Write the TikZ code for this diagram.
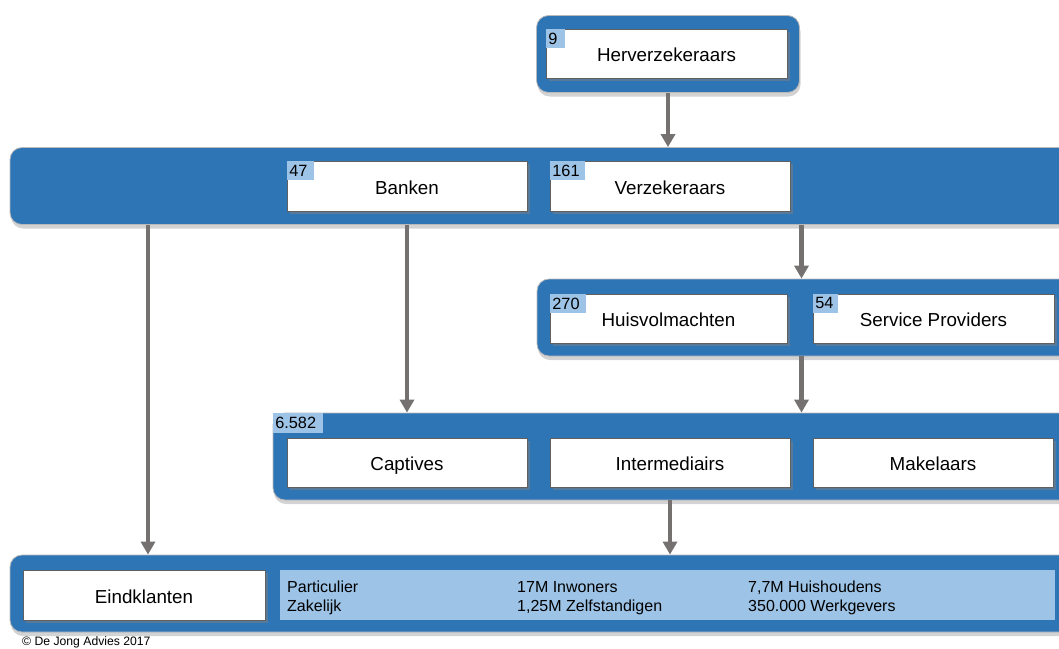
\documentclass[tikz,border=0pt]{standalone}
\usepackage{fontspec}
\setmainfont{Liberation Sans}
\usetikzlibrary{arrows.meta,shadows}
\definecolor{bandblue}{HTML}{2E75B6}
\definecolor{lblue}{HTML}{9DC3E6}
\definecolor{arrgray}{HTML}{767171}
\tikzset{
  bandbox/.style={fill=bandblue, draw=gray!55, line width=0.8pt, rounded corners=12pt, inner sep=0pt,
    drop shadow={shadow xshift=1pt, shadow yshift=-4pt, opacity=0.35}},
  whitebox/.style={fill=white, draw=gray!75!black, line width=0.6pt, inner sep=0pt,
    minimum width=240pt, minimum height=49pt, font=\fontsize{18.8}{21}\selectfont,
    text height=16.5pt, text depth=0pt,
    drop shadow={shadow xshift=3pt, shadow yshift=-3pt, opacity=0.5}},
  numbox/.style={fill=lblue, inner xsep=2.5pt, inner ysep=0pt, anchor=north west,
    minimum height=19pt, text width=#1, align=left, font=\fontsize{16.3}{17}\selectfont},
  infotext/.style={anchor=base west, inner sep=0pt, font=\fontsize{16}{17}\selectfont},
  flow/.style={draw=arrgray, line width=4.5pt, -{Triangle[width=14pt,length=13pt]}}
}
\begin{document}
\begin{tikzpicture}[x=1pt,y=-1pt]
\useasboundingbox (0,0) rectangle (1059,648);
\clip (0,0) rectangle (1059,648);

% bands
\node[bandbox, minimum width=263pt, minimum height=77pt] (hc) at (668,54) {};
\node[bandbox, minimum width=1068pt, minimum height=77pt] (band2) at (544,186) {};
\node[bandbox, minimum width=540pt, minimum height=77pt] (band3) at (807,317.5) {};
\node[bandbox, minimum width=805pt, minimum height=87pt] (band4) at (675.5,456.5) {};
\node[bandbox, minimum width=1068pt, minimum height=77pt] (band5) at (544,593.5) {};

% level 1
\node[whitebox, minimum width=241pt] (herv) at (666.5,53.5) {Herverzekeraars};
\node[numbox=14pt] (n9) at (herv.north west) {9};

% level 2
\node[whitebox, minimum height=50pt] (banken) at (407,186) {Banken};
\node[numbox=22pt] (n47) at (banken.north west) {47};
\node[whitebox, minimum height=50pt] (verz) at (670,186) {Verzekeraars};
\node[numbox=30pt] (n161) at (verz.north west) {161};

% level 3
\node[whitebox, minimum width=237pt] (huis) at (668.5,318.5) {Huisvolmachten};
\node[numbox=31pt] (n270) at (huis.north west) {270};
\node[whitebox, minimum width=241pt] (serv) at (933.5,318.5) {Service Providers};
\node[numbox=20pt] (n54) at (serv.north west) {54};

% level 4
\node[numbox=45pt, minimum height=20pt] (n6582) at (band4.north west) {6.582};
\node[whitebox] (capt) at (407,462.5) {Captives};
\node[whitebox] (inter) at (670,462.5) {Intermediairs};
\node[whitebox] (makel) at (933,462.5) {Makelaars};

% level 5
\node[whitebox, minimum width=242pt, minimum height=50pt] (eind) at (144,595) {Eindklanten};
\node[fill=lblue, inner sep=0pt, minimum width=775pt, minimum height=50pt] (info) at (667,595) {};
\node[infotext] (t11) at (287,592.7) {Particulier};
\node[infotext] (t12) at (287,611) {Zakelijk};
\node[infotext] (t21) at (517,592.7) {17M Inwoners};
\node[infotext] (t22) at (517,611) {1,25M Zelfstandigen};
\node[infotext] (t31) at (748,592.7) {7,7M Huishoudens};
\node[infotext] (t32) at (748,611) {350.000 Werkgevers};

% copyright
\node[anchor=base west, inner sep=0pt, font=\fontsize{12.2}{13}\selectfont] (copy) at (22,645.3) {© De Jong Advies 2017};

% connectors
\coordinate (c1) at (668,0);
\coordinate (c2) at (148,0);
\coordinate (c3) at (801.5,0);
\draw[flow] (hc.south -| c1) -- (band2.north -| c1);
\draw[flow] (band2.south -| c2) -- (band5.north -| c2);
\draw[flow] (band2.south -| banken.south) -- (band4.north -| banken.south);
\draw[flow] (band2.south -| c3) -- (band3.north -| c3);
\draw[flow] (band3.south -| c3) -- (band4.north -| c3);
\draw[flow] (band4.south -| inter.south) -- (band5.north -| inter.south);
\end{tikzpicture}
\end{document}
